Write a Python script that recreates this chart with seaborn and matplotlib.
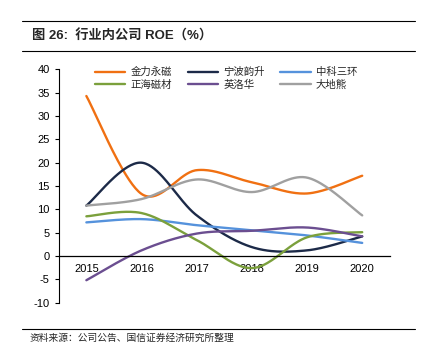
import numpy as np
import pandas as pd
import matplotlib
matplotlib.use("Agg")
import matplotlib.pyplot as plt
import seaborn as sns

sns.set_style("white")
plt.rcParams['font.family'] = ['Liberation Sans', 'Noto Sans CJK SC', 'DejaVu Sans']
plt.rcParams['axes.unicode_minus'] = False

# 数据
years = ['2015', '2016', '2017', '2018', '2019', '2020']
jinli = [34.3, 13.3, 18.4, 15.8, 13.4, 17.2]      # 金力永磁
ningbo = [10.8, 20.0, 8.7, 1.9, 1.2, 4.2]         # 宁波韵升
zhongke = [7.2, 7.9, 6.6, 5.5, 4.4, 2.8]          # 中科三环
zhenghai = [8.5, 9.2, 3.4, -2.6, 4.0, 5.1]        # 正海磁材
yingluo = [-5.2, 1.2, 4.8, 5.4, 6.1, 4.2]         # 英洛华
dadi = [10.8, 12.2, 16.4, 13.7, 16.8, 8.7]        # 大地熊

names = ['金力永磁', '宁波韵升', '中科三环', '正海磁材', '英洛华', '大地熊']
series = [jinli, ningbo, zhongke, zhenghai, yingluo, dadi]
colors = ['#F07012', '#1C2A48', '#5592DC', '#7BA03C', '#6B4E90', '#A0A0A0']


def smooth(xs, ys, n=40):
    # Excel 风格的平滑线（Bezier，控制点 = P1 + (P2-P0)/6）
    pts = np.column_stack([xs, ys]).astype(float)
    out = []
    for i in range(len(pts) - 1):
        p0 = pts[i - 1] if i > 0 else pts[i]
        p1 = pts[i]
        p2 = pts[i + 1]
        p3 = pts[i + 2] if i + 2 < len(pts) else pts[i + 1]
        c1 = p1 + (p2 - p0) / 6
        c2 = p2 - (p3 - p1) / 6
        t = np.linspace(0, 1, n)[:, None]
        seg = ((1 - t) ** 3) * p1 + 3 * ((1 - t) ** 2) * t * c1 + 3 * (1 - t) * t ** 2 * c2 + t ** 3 * p2
        out.append(seg if i == 0 else seg[1:])
    seg = np.vstack(out)
    return seg[:, 0], seg[:, 1]


rows = []
for name, vals in zip(names, series):
    sx, sy = smooth(np.arange(len(years)), vals)
    rows.append(pd.DataFrame({'x': sx, 'y': sy, 'name': name}))
df = pd.concat(rows, ignore_index=True)

fig = plt.figure(figsize=(4.26, 3.56), dpi=100)
ax = fig.add_axes([0.138, 0.150, 0.777, 0.655])

sns.lineplot(data=df, x='x', y='y', hue='name', hue_order=names,
             palette=colors, linewidth=1.7, sort=False, estimator=None,
             ax=ax, legend=True)

ax.set_xlim(-0.5, 5.5)
ax.set_ylim(-10, 40)
ax.set_yticks(range(-10, 41, 5))
ax.set_xticks(range(len(years)))
ax.set_xticklabels(years)
ax.set_xlabel('')
ax.set_ylabel('')
ax.tick_params(axis='both', labelsize=8, colors='black')
ax.tick_params(axis='y', length=3, width=0.8, direction='out', left=True)
ax.tick_params(axis='x', length=0, pad=6)

for s in ['top', 'right']:
    ax.spines[s].set_visible(False)
ax.spines['left'].set_color('black')
ax.spines['left'].set_linewidth(0.8)
ax.spines['bottom'].set_position(('data', 0))
ax.spines['bottom'].set_color('black')
ax.spines['bottom'].set_linewidth(0.9)

# 图例按行排列（matplotlib 按列填充，所以重排）
handles, labels = ax.get_legend_handles_labels()
order = [0, 3, 1, 4, 2, 5]
ax.legend([handles[i] for i in order], [labels[i] for i in order],
          ncol=3, loc='upper center', bbox_to_anchor=(0.506, 1.05),
          frameon=False, handlelength=2.9, columnspacing=1.5,
          labelspacing=0.25, handletextpad=0.5,
          prop={'family': ['Noto Sans CJK SC'], 'size': 7.5})

# 标题与注释
fig.add_artist(plt.Line2D([0.052, 0.975], [0.941, 0.941], color='black', lw=0.8))
fig.add_artist(plt.Line2D([0.052, 0.975], [0.857, 0.857], color='black', lw=0.8))
fig.text(0.075, 0.899, '图 26:  行业内公司 ROE（%）', fontsize=9.5, fontweight='bold',
         va='center', ha='left', family=['Liberation Sans', 'Noto Sans CJK SC'])
fig.add_artist(plt.Line2D([0.052, 0.975], [0.077, 0.077], color='black', lw=0.8))
fig.text(0.07, 0.052, '资料来源：公司公告、国信证券经济研究所整理', fontsize=7,
         va='center', ha='left', family=['Noto Sans CJK SC'])

fig.savefig('out.png', dpi=100)
